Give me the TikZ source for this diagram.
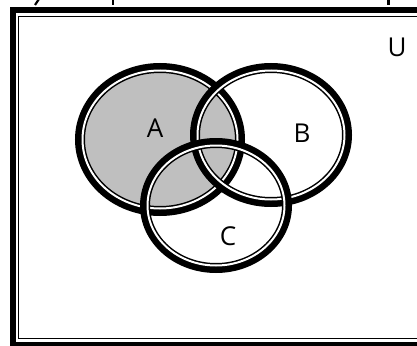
\documentclass[tikz,border=0pt]{standalone}
\usepackage{fontspec}
\setmainfont{Open Sans}
\begin{document}
\begin{tikzpicture}[x=1pt,y=-1pt,
  lbl/.style={font=\fontsize{26}{30}\selectfont, inner sep=0pt},
  ringblack/.style={draw=black, line width=10pt},
  ringgap/.style={draw=white, line width=2pt},
  frag/.style={draw=black, line width=2.2pt}]
\useasboundingbox (0,0) rectangle (417,345);
% cropped fragments of a title above the picture
\coordinate (f1a) at (35,5);
\coordinate (f1b) at (39,-1);
\coordinate (f2a) at (113,5);
\coordinate (f2b) at (113,-1);
\coordinate (f3a) at (388.5,5);
\coordinate (f3b) at (388.5,-1);
\draw[frag] (f1a) -- (f1b);
\draw[frag] (f2a) -- (f2b);
\draw[frag] (f3a) -- (f3b);
% frame
\draw[black, line width=6pt] (13,10) rectangle (425,345);
\draw[black, line width=1pt] (18.75,16.5) rectangle (421,338.5);
% fill A
\fill[gray!50] (160,139.5) ellipse [x radius=80, y radius=71.5];
% A
\draw[ringblack] (160,139.5) ellipse [x radius=80, y radius=71.5];
\draw[ringgap] (160,139.5) ellipse [x radius=77.5, y radius=69];
% B
\draw[ringblack] (271,135) ellipse [x radius=76, y radius=67];
\draw[ringgap] (271,135) ellipse [x radius=73.5, y radius=64.5];
% C
\draw[ringblack] (216,205.5) ellipse [x radius=71, y radius=62.5];
\draw[ringgap] (216,205.5) ellipse [x radius=68.5, y radius=60];
% labels
\node[lbl] (A) at (155,128) {A};
\node[lbl] (B) at (302,133) {B};
\node[lbl] (C) at (228,236) {C};
\node[lbl] (U) at (397,47) {U};
\end{tikzpicture}
\end{document}
